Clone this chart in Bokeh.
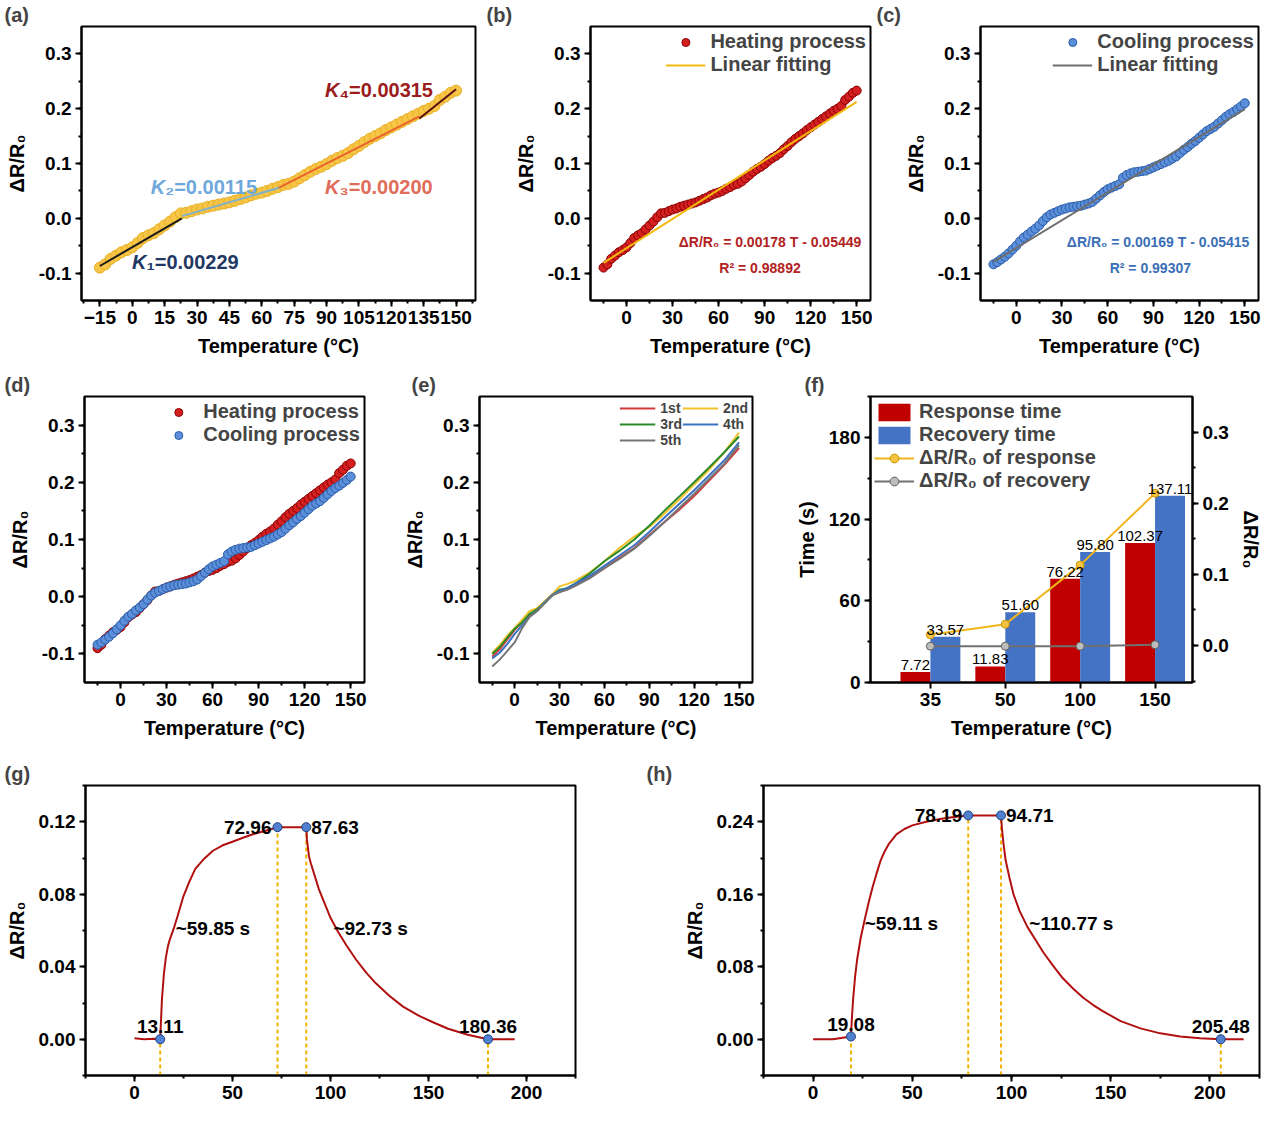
from bokeh.plotting import figure
from bokeh.models import (Range1d, LinearAxis, Legend, LegendItem,
                          SingleIntervalTicker, FixedTicker, PrintfTickFormatter)
from bokeh.layouts import row, column
from bokeh.core.properties import value
from bokeh.embed import file_html
from bokeh.resources import INLINE

FONT = "Liberation Sans"

# ---- temperature sweeps (a)-(d) ----
temp = [-15, -12.5, -10, -7.5, -5, -2.5, 0, 2.5, 5, 7.5, 10, 12.5, 15, 17.5, 20, 22.5,
        25, 27.5, 30, 32.5, 35, 37.5, 40, 42.5, 45, 47.5, 50, 52.5, 55, 57.5, 60, 62.5,
        65, 67.5, 70, 72.5, 75, 77.5, 80, 82.5, 85, 87.5, 90, 92.5, 95, 97.5, 100, 102.5,
        105, 107.5, 110, 112.5, 115, 117.5, 120, 122.5, 125, 127.5, 130, 132.5, 135, 137.5,
        140, 142.5, 145, 147.5, 150]
heating = [-0.090, -0.084, -0.074, -0.068, -0.062, -0.058, -0.053, -0.045, -0.036, -0.031,
           -0.027, -0.020, -0.013, -0.006, 0.002, 0.009, 0.010, 0.013, 0.016, 0.018, 0.021,
           0.023, 0.025, 0.027, 0.029, 0.032, 0.035, 0.038, 0.042, 0.045, 0.047, 0.050,
           0.054, 0.057, 0.061, 0.063, 0.067, 0.073, 0.079, 0.085, 0.090, 0.094, 0.099,
           0.105, 0.110, 0.114, 0.119, 0.126, 0.132, 0.139, 0.145, 0.150, 0.155, 0.161,
           0.166, 0.171, 0.176, 0.181, 0.186, 0.191, 0.196, 0.200, 0.205, 0.216, 0.222,
           0.229, 0.233]
cooling = [-0.084, -0.080, -0.075, -0.070, -0.064, -0.057, -0.050, -0.042, -0.035, -0.030,
           -0.024, -0.019, -0.013, -0.005, 0.002, 0.007, 0.010, 0.013, 0.016, 0.018, 0.020,
           0.021, 0.022, 0.023, 0.025, 0.027, 0.030, 0.036, 0.042, 0.048, 0.053, 0.056,
           0.059, 0.062, 0.074, 0.079, 0.082, 0.084, 0.085, 0.086, 0.087, 0.090, 0.093,
           0.096, 0.099, 0.102, 0.105, 0.109, 0.113, 0.119, 0.125, 0.130, 0.136, 0.141,
           0.147, 0.153, 0.159, 0.163, 0.167, 0.173, 0.179, 0.185, 0.190, 0.194, 0.199,
           0.204, 0.210]

# piecewise fits in (a)
seg_k = [0.00229, 0.00115, 0.00200, 0.00315]
seg_b = [-0.0527, -0.0225, -0.080, -0.237]
seg_from = [-15, 23, 68, 133]
seg_to = [23, 68, 133, 150]
seg_colors = ["#1a1a1a", "#7fb0cc", "#e8642c", "#5a0f0f"]
k_names = ["₁=0.00229", "₂=0.00115", "₃=0.00200", "₄=0.00315"]
k_colors = ["#1f3864", "#6fa8dc", "#e06c5a", "#9b1c1c"]
k_pos_x = [6.6, 15.3, 96, 96]
k_pos_y = [-0.079, 0.058, 0.058, 0.234]

# linear fits (b), (c)
fit_range = [-15, 150]
heat_fit = (0.00178, -0.05449)
cool_fit = (0.00169, -0.05415)

# ---- five cycles (e) ----
cyc_t = [-15, -10, -5, 0, 5, 10, 15, 20, 25, 30, 35, 40, 50, 60, 70, 80, 90, 100, 110,
         120, 130, 140, 150]
cyc1 = [-0.105, -0.092, -0.075, -0.058, -0.045, -0.032, -0.022, -0.010, 0.003, 0.008,
        0.013, 0.020, 0.033, 0.050, 0.068, 0.085, 0.108, 0.130, 0.152, 0.176, 0.203,
        0.230, 0.260]
cyc2 = [-0.098, -0.085, -0.068, -0.055, -0.040, -0.025, -0.020, -0.008, 0.004, 0.018,
        0.022, 0.027, 0.042, 0.062, 0.085, 0.105, 0.122, 0.145, 0.170, 0.196, 0.222,
        0.252, 0.287]
cyc3 = [-0.100, -0.088, -0.072, -0.056, -0.045, -0.030, -0.022, -0.010, 0.002, 0.012,
        0.015, 0.022, 0.040, 0.062, 0.080, 0.100, 0.124, 0.150, 0.175, 0.200, 0.226,
        0.252, 0.280]
cyc4 = [-0.108, -0.098, -0.083, -0.065, -0.050, -0.035, -0.025, -0.010, 0.003, 0.010,
        0.015, 0.022, 0.036, 0.054, 0.072, 0.090, 0.113, 0.138, 0.162, 0.186, 0.212,
        0.238, 0.270]
cyc5 = [-0.122, -0.110, -0.095, -0.080, -0.055, -0.035, -0.025, -0.012, 0.002, 0.008,
        0.012, 0.018, 0.032, 0.050, 0.066, 0.084, 0.106, 0.130, 0.155, 0.180, 0.206,
        0.232, 0.265]
cyc_names = ["1st", "2nd", "3rd", "4th", "5th"]
cyc_colors = ["#d03a3a", "#f2c22a", "#2a8a2a", "#3a72c4", "#767676"]

# ---- response / recovery summary (f) ----
f_temps = ["35", "50", "100", "150"]
resp_time = [7.72, 11.83, 76.22, 102.37]
recov_time = [33.57, 51.60, 95.80, 137.11]
resp_dr = [0.015, 0.030, 0.113, 0.214]
recov_dr = [-0.001, -0.001, -0.001, 0.001]

# ---- transients (g), (h) ----
g_t = [0, 5, 10, 13.11, 14, 15, 16, 17, 18, 20, 22, 25, 28, 31, 35, 40, 45, 50, 55, 60,
       65, 70, 72.96, 80, 87.63, 88, 89, 90, 92, 94, 97, 100, 104, 108, 113, 118, 123,
       130, 137, 145, 152, 160, 170, 180.36, 187, 194]
g_v = [0.0005, 0.0, 0.0003, 0.0, 0.022, 0.036, 0.045, 0.051, 0.055, 0.061, 0.068, 0.079,
       0.087, 0.094, 0.099, 0.104, 0.107, 0.109, 0.111, 0.113, 0.1145, 0.116, 0.117,
       0.117, 0.117, 0.110, 0.101, 0.097, 0.090, 0.083, 0.075, 0.067, 0.059, 0.052, 0.044,
       0.037, 0.031, 0.024, 0.018, 0.013, 0.0095, 0.0058, 0.0025, 0.0, 0.0, 0.0]
g_pts_t = [13.11, 72.96, 87.63, 180.36]
g_pts_v = [0.0, 0.117, 0.117, 0.0]
g_notes = ["~59.85 s", "~92.73 s"]
g_notes_x = [21, 101.5]
g_notes_y = [0.061, 0.061]

h_t = [0, 10, 19.08, 19.6, 20.2, 21.2, 22.2, 24, 26, 28, 30, 32, 34, 36, 38, 42, 46, 50,
       57, 64, 70, 78.19, 86, 94.71, 95.2, 96, 97, 99, 101, 104, 108, 112, 116, 121, 126,
       131, 136, 141, 146, 155, 165, 175, 185, 195, 205.48, 212, 217]
h_v = [0.0, 0.0, 0.003, 0.025, 0.045, 0.070, 0.088, 0.112, 0.132, 0.151, 0.168, 0.183,
       0.197, 0.207, 0.215, 0.226, 0.232, 0.236, 0.240, 0.243, 0.245, 0.247, 0.247, 0.247,
       0.232, 0.215, 0.198, 0.178, 0.160, 0.142, 0.124, 0.110, 0.096, 0.081, 0.067, 0.056,
       0.046, 0.038, 0.031, 0.020, 0.012, 0.0065, 0.003, 0.0012, 0.0, 0.0, 0.0]
h_pts_t = [19.08, 78.19, 94.71, 205.48]
h_pts_v = [0.003, 0.247, 0.247, 0.0]
h_notes = ["~59.11 s", "~110.77 s"]
h_notes_x = [26, 109]
h_notes_y = [0.128, 0.128]

DR = "ΔR/R₀"
TEMP = "Temperature (°C)"


def style_axis(ax):
    ax.axis_line_width = 2
    ax.major_tick_line_width = 2
    ax.major_tick_out = 6
    ax.major_tick_in = 0
    ax.minor_tick_line_width = 2
    ax.minor_tick_out = 3
    ax.minor_tick_in = 0
    ax.major_label_text_font = FONT
    ax.major_label_text_font_style = "bold"
    ax.major_label_text_font_size = "19px"
    ax.major_label_text_color = "black"
    ax.major_label_standoff = 4
    ax.axis_label_text_font = FONT
    ax.axis_label_text_font_style = "bold"
    ax.axis_label_text_font_size = "20px"
    ax.axis_label_text_color = "black"
    ax.axis_label_standoff = 8


def make(w, h, bl, br, bt, bb, xr, yr, tag):
    p = figure(width=w, height=h, x_range=Range1d(*xr), y_range=Range1d(*yr),
               output_backend="svg", toolbar_location=None,
               min_border_left=bl, min_border_right=br, min_border_top=bt,
               min_border_bottom=bb)
    p.xgrid.visible = False
    p.ygrid.visible = False
    p.outline_line_color = "black"
    p.outline_line_width = 2
    p.outline_line_alpha = 1
    for ax in p.axis:
        style_axis(ax)
    # panel letter, pushed left of the frame
    p.title.text = tag
    p.title.align = "left"
    p.title.offset = -(bl - 4)
    p.title.standoff = 2
    p.title.text_font = FONT
    p.title.text_font_style = "bold"
    p.title.text_font_size = "20px"
    return p


def temp_axes(p, step=30):
    p.xaxis.ticker = SingleIntervalTicker(interval=step, num_minor_ticks=2)
    p.yaxis.ticker = SingleIntervalTicker(interval=0.1, num_minor_ticks=2)
    p.yaxis.formatter = PrintfTickFormatter(format="%.1f")
    p.xaxis.axis_label = TEMP
    p.yaxis.axis_label = DR


def style_legend(lg, size="20px"):
    lg.background_fill_alpha = 0
    lg.border_line_alpha = 0
    lg.label_text_font = FONT
    lg.label_text_font_style = "bold"
    lg.label_text_font_size = size
    lg.spacing = 0
    lg.padding = 2
    lg.margin = 2


def note(p, x, y, texts, color, size="19px", align="left", baseline="middle",
         dx=0, dy=0, style="bold"):
    p.text(x=x, y=y, text=texts, text_color=color, text_font=value(FONT),
           text_font_style=style, text_font_size=size, text_align=align,
           text_baseline=baseline, x_offset=dx, y_offset=dy)


TX = (-23.5, 159)
TY = (-0.15, 0.35)

# (a)
pa = make(482, 370, 81, 7, 4, 70, TX, TY, "(a)")
temp_axes(pa, step=15)
pa.scatter(temp, heating, size=11, fill_color="#f7c548", line_color="#e8b020")
for k, b, t0, t1, c in zip(seg_k, seg_b, seg_from, seg_to, seg_colors):
    pa.line([t0, t1], [k * t0 + b, k * t1 + b], line_color=c, line_width=2)
for nm, c, x, y in zip(k_names, k_colors, k_pos_x, k_pos_y):
    note(pa, [x], [y], ["K"], c, size="20px", align="right", style="bold italic")
    note(pa, [x], [y], [nm], c, size="20px", align="left")

# (b)
pb = make(390, 370, 108, 2, 4, 70, TX, TY, "(b)")
temp_axes(pb)
rb = pb.scatter(temp, heating, size=9, fill_color="#d42020", line_color="#8a0000")
fb = pb.line(fit_range, [heat_fit[0] * t + heat_fit[1] for t in fit_range],
             line_color="#f2b90f", line_width=2)
lgb = Legend(items=[LegendItem(label="Heating process", renderers=[rb]),
                    LegendItem(label="Linear fitting", renderers=[fb])],
             location="top_right", glyph_width=40)
style_legend(lgb)
pb.add_layout(lgb)
note(pb, [153], [-0.044], ["ΔR/R₀ = 0.00178 T - 0.05449"], "#b22222", size="14px", align="right")
note(pb, [87], [-0.090], ["R² = 0.98892"], "#b22222", size="14px", align="center")

# (c)
pc = make(392, 370, 108, 6, 4, 70, TX, TY, "(c)")
temp_axes(pc)
rc = pc.scatter(temp, cooling, size=9, fill_color="#5b8fd9", line_color="#2a5caa")
fc = pc.line(fit_range, [cool_fit[0] * t + cool_fit[1] for t in fit_range],
             line_color="#6e6e6e", line_width=2)
lgc = Legend(items=[LegendItem(label="Cooling process", renderers=[rc]),
                    LegendItem(label="Linear fitting", renderers=[fc])],
             location="top_right", glyph_width=40)
style_legend(lgc)
pc.add_layout(lgc)
note(pc, [153], [-0.044], ["ΔR/R₀ = 0.00169 T - 0.05415"], "#3a6fb8", size="14px", align="right")
note(pc, [88], [-0.090], ["R² = 0.99307"], "#3a6fb8", size="14px", align="center")

# (d)
pd_ = make(400, 380, 84, 36, 22, 68, TX, TY, "(d)")
temp_axes(pd_)
rdh = pd_.scatter(temp, heating, size=9, fill_color="#d42020", line_color="#8a0000")
rdc = pd_.scatter(temp, cooling, size=9, fill_color="#5b8fd9", line_color="#2a5caa")
lgd = Legend(items=[LegendItem(label="Heating process", renderers=[rdh]),
                    LegendItem(label="Cooling process", renderers=[rdc])],
             location="top_right", glyph_width=40)
style_legend(lgd)
pd_.add_layout(lgd)

# (e)
pe = make(392, 380, 72, 40, 22, 68, TX, TY, "(e)")
temp_axes(pe)
items = []
for nm, ys, c in zip(cyc_names, [cyc1, cyc2, cyc3, cyc4, cyc5], cyc_colors):
    r = pe.line(cyc_t, ys, line_color=c, line_width=2)
    items.append(LegendItem(label=nm, renderers=[r]))
lge = Legend(items=items, location="top_right", orientation="horizontal", ncols=2,
             glyph_width=36, glyph_height=14)
style_legend(lge, size="14px")
pe.add_layout(lge)

# (f)
idx = list(range(len(f_temps)))
pf = make(472, 380, 70, 65, 22, 68, (-0.8, 3.5), (0, 210), "(f)")
pf.extra_y_ranges = {"dr": Range1d(-0.052, 0.35)}
ax_r = LinearAxis(y_range_name="dr", axis_label=DR)
ax_r.ticker = SingleIntervalTicker(interval=0.1, num_minor_ticks=2)
ax_r.formatter = PrintfTickFormatter(format="%.1f")
style_axis(ax_r)
pf.add_layout(ax_r, "right")
pf.yaxis[0].ticker = SingleIntervalTicker(interval=60, num_minor_ticks=2)
pf.yaxis[0].axis_label = "Time (s)"
pf.xaxis.axis_label = TEMP
pf.xaxis.ticker = FixedTicker(ticks=idx)
pf.xaxis.major_label_overrides = {i: t for i, t in zip(idx, f_temps)}
pf.xaxis.minor_tick_line_color = None
xr_ = [i - 0.2 for i in idx]
xb_ = [i + 0.2 for i in idx]
b1 = pf.vbar(x=xr_, top=resp_time, width=0.4, fill_color="#c00000", line_color=None)
b2 = pf.vbar(x=xb_, top=recov_time, width=0.4, fill_color="#4472c4", line_color=None)
l1 = pf.line(idx, resp_dr, y_range_name="dr", line_color="#f2b51b", line_width=2)
d1 = pf.scatter(idx, resp_dr, y_range_name="dr", size=8, fill_color="#f5c242",
                line_color="#c99700")
l2 = pf.line(idx, recov_dr, y_range_name="dr", line_color="#707070", line_width=2)
d2 = pf.scatter(idx, recov_dr, y_range_name="dr", size=8, fill_color="#bdbdbd",
                line_color="#606060")
note(pf, xr_, resp_time, ["%.2f" % v for v in resp_time], "black", size="15px",
     align="center", baseline="bottom", dy=-2, style="normal")
note(pf, xb_, recov_time, ["%.2f" % v for v in recov_time], "black", size="15px",
     align="center", baseline="bottom", dy=-2, style="normal")
lgf = Legend(items=[LegendItem(label="Response time", renderers=[b1]),
                    LegendItem(label="Recovery time", renderers=[b2]),
                    LegendItem(label=DR + " of response", renderers=[l1, d1]),
                    LegendItem(label=DR + " of recovery", renderers=[l2, d2])],
             location="top_left", glyph_width=40, glyph_height=22)
style_legend(lgf)
pf.add_layout(lgf)


def transient(w, bl, br, yr, step, t, v, pt_t, pt_v, labels, notes, nx, ny, tag):
    p = make(w, 356, bl, br, 35, 31, (-25, 225), yr, tag)
    p.xaxis.ticker = SingleIntervalTicker(interval=50, num_minor_ticks=2)
    p.yaxis.ticker = SingleIntervalTicker(interval=step, num_minor_ticks=2)
    p.yaxis.formatter = PrintfTickFormatter(format="%.2f")
    p.yaxis.axis_label = DR
    p.segment(x0=pt_t, y0=[yr[0]] * len(pt_t), x1=pt_t, y1=pt_v, line_color="#f0b400",
              line_width=2, line_dash="4 3")
    p.line(t, v, line_color="#b01010", line_width=2)
    p.scatter(pt_t, pt_v, size=9, fill_color="#4f81d0", line_color="#1f3f80")
    note(p, [pt_t[0]], [pt_v[0]], [labels[0]], "black", align="center",
         baseline="bottom", dy=-6)
    note(p, [pt_t[1]], [pt_v[1]], [labels[1]], "black", align="right", dx=-6)
    note(p, [pt_t[2]], [pt_v[2]], [labels[2]], "black", align="left", dx=5)
    note(p, [pt_t[3]], [pt_v[3]], [labels[3]], "black", align="center",
         baseline="bottom", dy=-6)
    note(p, nx, ny, notes, "black", align="left")
    return p


pg = transient(642, 85, 67, (-0.02, 0.14), 0.04, g_t, g_v, g_pts_t, g_pts_v,
               ["%.2f" % x for x in g_pts_t], g_notes, g_notes_x, g_notes_y, "(g)")
ph = transient(622, 121, 5, (-0.04, 0.28), 0.08, h_t, h_v, h_pts_t, h_pts_v,
               ["%.2f" % x for x in h_pts_t], h_notes, h_notes_x, h_notes_y, "(h)")

page = column(row(pa, pb, pc), row(pd_, pe, pf), row(pg, ph))
open("out.html", "w").write(file_html(page, INLINE))
